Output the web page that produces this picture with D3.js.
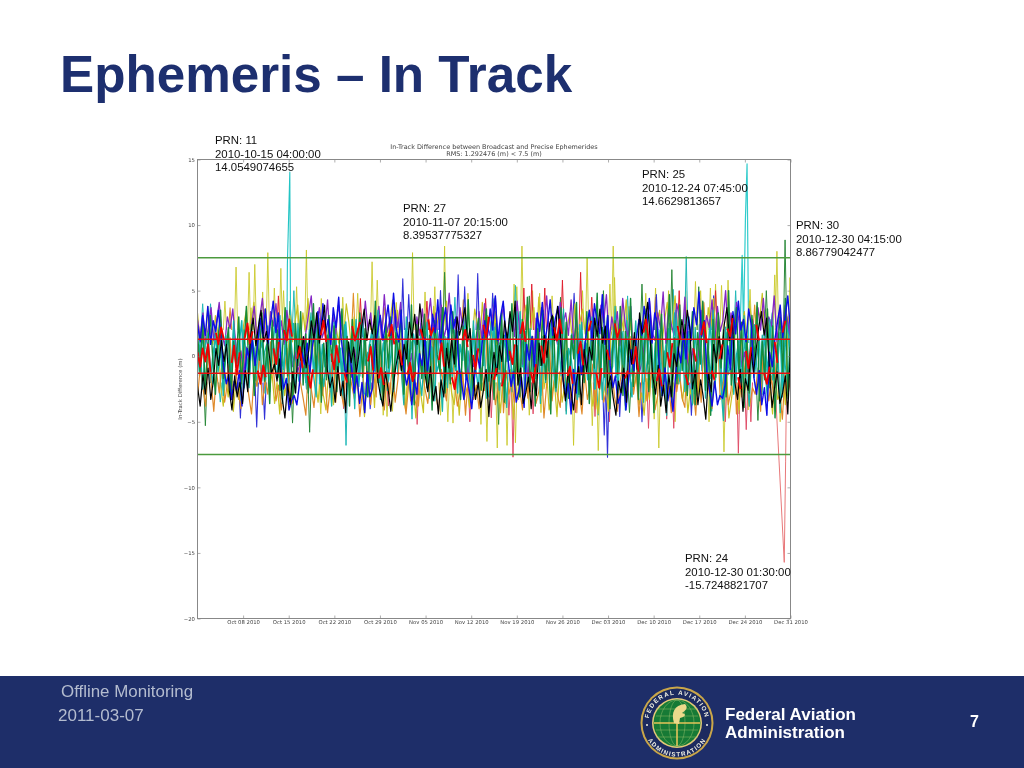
<!DOCTYPE html>
<html><head><meta charset="utf-8">
<script src="https://cdnjs.cloudflare.com/ajax/libs/d3/7.8.5/d3.min.js"></script>
<style>html,body{margin:0;padding:0;background:#fff;overflow:hidden}svg{display:block}</style>
</head><body><svg id="c" width="1024" height="768" xmlns="http://www.w3.org/2000/svg"></svg>
<script>
// ---- text ----
const slideTitle = "Ephemeris – In Track";
const plotTitle = ["In-Track Difference between Broadcast and Precise Ephemerides","RMS: 1.292476 (m) < 7.5 (m)"];
const yLabel = "In-Track Difference (m)";
const footerLeft = ["Offline Monitoring","2011-03-07"];
const footerOrg = ["Federal Aviation","Administration"];
const pageNumber = "7";
const yTicks = [15,10,5,0,-5,-10,-15,-20];
const xTickDates = ["2010-10-08","2010-10-15","2010-10-22","2010-10-29","2010-11-05","2010-11-12","2010-11-19","2010-11-26","2010-12-03","2010-12-10","2010-12-17","2010-12-24","2010-12-31"];
const annPrn = [11,27,25,30,24];
const annTime = ["2010-10-15 04:00:00","2010-11-07 20:15:00","2010-12-24 07:45:00","2010-12-30 04:15:00","2010-12-30 01:30:00"];
const annValue = ["14.0549074655","8.39537775327","14.6629813657","8.86779042477","-15.7248821707"];
const rmsLimit = 1.292476, maxLimit = 7.5;

// ---- dense series: in-track difference in decimetres, evenly spread over Oct 1 – Dec 31 (null = gap) ----
const dmGold = [33,12,27,6,38,18,9,31,15,-22,-38,-14,-31,-8,-42,-19,-33,-11,24,35,9,29,41,14,22,7,36,17,-27,-12,-36,-20,-44,-9,-30,-16,31,11,26,39,8,33,19,44,13,28,-18,-35,-10,-29,-41,-15,-24,-37,21,10,34,16,40,25,7,30,-13,-33,-23,-46,-17,-28,-9,-39,14,32,22,37,11,27,43,15,35,8,-26,-40,-12,-34,-21,-47,-16,-30,-43,18,29,9,38,20,33,12,25,42,-11,-28,-37,-19,-45,-14,-32,-24,-39,13,36,23,8,41,17,31,26,10,34,-20,-43,-15,-36,-27,-10,-48,-22,-33,16,28,39,11,24,37,9,45,19,-25,-13,-41,-30,-18,-46,-12,-35,-23,21,33,14,40,10,27,36,17,29,-16,-38,-26,-44,-11,-31,-20,-42,15,25,38,8,32,19,43,12,30,-24,-14,-37,-28,-45,-17,-33,-9,-40,22,35,11,28,41,16,26,46,13,-19,-34,-12,-43,-25,-36,-15,-29,18,31,9,37,23,44,14,27,-21,-39,-10,-47,-32,-16,-26,-41,20,34,12,42,24,15,38,29,48,17,36,-22,-44,-13,-33,-28,-11,-37,30,16];
const dmOrange = [-31,-9,-24,-38,5,-19,-42,-12,-28,-6,-35,-21,14,-33,-10,-26,-40,8,-16,-30,-44,-13,-23,3,-37,-18,-29,11,-8,-34,-22,-41,-15,6,-27,-36,-11,17,-20,-32,-45,-7,-25,-39,-14,9,-30,-17,-43,-24,2,-35,-12,-28,-38,13,-9,-22,-33,-16,-46,-26,7,-19,-37,-11,-31,15,-23,-41,-14,-29,-6,-35,-18,10,-27,-44,-21,-8,-32,-39,4,-13,-25,-36,-17,12,-30,-42,-10,-24,-34,-7,16,-20,-38,-28,-12,-45,-16,6,-33,-22,-40,-9,-26,18,-31,-15,-37,-23,8,-43,-11,-29,-19,-35,3,-25,-41,-13,-32,14,-17,-36,-27,-8,-47,-21,11,-34,-14,-30,-39,5,-24,-10,-37,-18,19,-28,-44,-12,-33,-22,-6,-40,9,-16,-35,-26,13,-11,-31,-42,-20,-7,-38,-25,15,-29,-13,-46,-18,4,-34,-23,-9,-41,-30,17,-15,-36,-21,-43,10,-27,-12,-32,-39,7,-19,-24,-45,-8,-35,12,-16,-28,-40,-14,20,-33,-22,-10,-37,-26,6,-44,-17,-31,-12,16,-38,-24,-29,-9,-42,8,-20,-34,-15,-36,11,-27,-48,-13,-30,-18];
const dmPurple = [28,14,33,9,22,37,12,26,41,17,8,30,21,36,11,-6,4,-14,7,-3,24,38,13,29,44,16,10,34,23,40,15,27,9,35,19,-8,3,-12,-4,6,18,32,46,11,25,37,14,21,43,8,31,17,39,26,12,-9,-2,-16,5,-7,29,15,42,20,33,10,24,38,13,47,18,28,9,35,22,41,-5,7,-11,2,-15,30,16,36,12,26,44,19,33,8,39,14,23,48,17,28,10,37,21,-3,-13,6,-8,1,34,13,40,24,16,31,45,9,27,38,11,20,35,15,42,18,-6,4,-17,8,-10,29,12,37,22,46,14,32,19,9,41,25,33,16,43,10,28,-2,-12,5,-9,3,36,20,13,39,26,47,11,30,17,34,8,44,23,15,38,-7,2,-14,-5,7,27,42,18,12,33,21,49,10,36,24,16,40,29,13,45,-4,-11,6,-15,1,35,14,31,22,43,9,38,19,27,50,12,33,17,41,25,-8,3,-13,-6,28,10,37,20,44,15,30,23,46,11,34,18,39,26,13];
const dmGreen = [19,-12,27,-25,8,31,-5,-29,14,35,-17,3,22,-33,11,-8,30,-21,6,38,-14,24,-30,16,-3,33,-19,9,-36,27,-10,20,-26,5,37,-15,12,-32,25,-7,34,-22,17,-28,2,40,-13,29,-35,10,-18,31,-4,23,-27,7,36,-11,15,-38,28,-23,4,33,-16,21,-31,9,-6,42,-20,13,-34,26,-9,30,-25,18,-2,35,-29,11,-14,39,-37,24,6,-17,32,-24,16,-41,27,1,-12,37,-28,10,-21,34,-8,19,-33,23,-15,43,-5,-30,14,29,-26,7,36,-19,12,-33,25,-10,33,-35,18,-3,40,-22,8,-31,28,-13,45,-27,15,-38,21,-7,35,-18,11,-44,30,-24,5,37,-11,26,-32,16,-2,41,-29,9,-20,34,-36,13,-9,48,-25,22,-16,31,-40,6,27,-14,38,-30,19,-4,44,-23,10,-33,25,-12,36,-27,17,-43,29,-8,32,-19,3,47,-35,14,-21,39,-11,24,-30,7,34,-37,18,-6,42,-26,12,-45,28,-16,33,-9,20,-31,50,-22,4,37,-13,26,-39,15,-28,31,-5,41,-34,11,-18,36,-24,23,-47,8,30,-12,44,-32,17];
const dmBlue = [24,11,31,16,38,9,27,19,35,13,-8,-21,-14,-33,-19,-27,-11,-38,-16,6,-3,12,-7,8,29,15,36,10,26,42,18,33,-12,-25,-17,-41,-34,-30,-37,-22,3,-6,10,-13,7,21,34,13,40,17,28,9,37,22,45,14,-4,-16,5,-10,-28,-15,-36,-20,-43,-12,-31,-24,8,19,31,12,26,39,16,48,23,11,35,-9,-22,-13,-37,-18,-29,2,-7,14,-11,6,32,18,43,10,25,37,13,39,21,30,-6,-19,-33,-14,-26,-40,-17,4,-9,11,27,15,36,20,46,12,30,42,17,-5,-23,-12,-35,-27,-16,-39,9,-3,15,-8,33,19,41,11,24,43,16,29,38,13,-18,-31,-21,-44,-10,-28,6,-14,3,22,35,12,40,26,17,47,9,31,-7,-24,-15,-36,-29,-12,-41,-20,5,-11,13,28,16,38,21,44,10,33,25,-17,-30,-9,-34,-23,-42,-14,7,-5,18,-2,30,12,37,24,49,15,27,-13,-26,-38,-19,-37,-30,-32,-22,8,-10,34,17,42,20,28,11,36,23,-16,-29,-11,-37,-24,-45,3,-8,12,26,39,14,31,46,19];
const dmTealA = [6,-11,17,-3,10,-20,2,15,-9,24,-26,7,13,-18,21,-5,9,27,-24,-1,-14,19,-7,-22,4,12,-28,23,-13,8,29,-16,3,-10,18,-30,11,25,-6,-19,14,-2,-25,20,5,-12,31,-21,9,-8,16,-27,1,22,-15,6,-33,26,-4,13,-17,28,-23,10,-28,-30,7,19,-11,24,-20,3,15,-26,-6,12,30,-14,8,-22,21,-2,-29,17,4,-9,25,-18,11,-32,6,23,-12,-5,27,-24,14,1,-16,20,-28,9,-3,31,-19,5,18,-10,-25,13,-7,26,-31,2,22,-15,10,-21,16,-4,29,-27,7,-13,34,-8,19,-23,3,12,-17,25,-30,-2,15,-11,21,-6,-26,9,28,-14,4,-20,17,-1,-33,24,-9,11,-18,6,30,-25,13,-12,20,-29,8,-4,23,-16,2,18,-22,27,-7,-31,14,5,-10,26,-19,-3,32,-24,10,-15,16,-28,7,21,-8,-13,35,-21,3,12,-26,19,-5,-28,-30,24,-11,9,-17,28,-2,-23,15,6,-33,22,-14,-7,31,-20,11,-27,4,17,-9,25,-16,-1,13,-29,20,-12,8,33,-24,-6,18,-31,10,26,-15];
const dmTealB = [-15,11,-25,8,18,-7,-21,23,-12,5,-30,16,-3,-17,27,-9,12,-34,20,-1,-24,14,6,-13,29,-19,3,10,-27,22,-5,-16,31,-36,9,-11,17,-2,-28,25,-8,13,-20,4,33,-14,-31,19,-6,-23,1,15,-38,26,-10,8,-18,24,-29,-4,12,-40,21,-15,28,-7,3,-25,17,-12,35,-33,10,-2,-19,23,-27,6,14,-9,-37,30,-5,11,-22,18,-13,-30,2,26,-16,7,-34,20,-8,-42,15,-24,32,-1,-11,9,-28,22,-18,4,-35,27,-6,13,-21,16,-32,-3,29,-14,8,-26,19,-10,-39,24,-17,-4,34,-23,11,-30,5,21,-12,-7,28,-36,15,-20,2,25,-9,-27,18,-15,36,-44,6,-3,-22,13,-31,26,-11,10,-18,30,-25,-5,16,-33,7,23,-13,-8,38,-28,3,19,-41,12,-16,-2,27,-21,9,-35,31,-6,15,-24,-10,20,-30,4,-45,25,-14,33,-7,-19,11,-27,17,-3,-37,22,-12,6,29,-32,8,-17,35,-4,14,-23,-49,18,-9,26,-29,1,12,-20,31,-15,-38,7,24,-11,-26,16,-5,-33,28,-18,3,10,-43,21,-8,-22,19];
const dmBlack = [-23,-38,-14,-29,-9,-33,-18,6,-7,12,-4,9,-26,-41,-15,-31,-20,-36,-11,-27,14,29,8,22,35,11,19,3,-13,-6,-19,-2,-32,-47,-21,-37,-12,-28,8,-3,15,-9,5,27,13,33,10,24,39,-10,-24,-16,-35,-8,-30,-19,-43,11,-5,7,-13,2,23,36,12,28,17,31,-17,-29,-38,-12,-25,-42,-21,-7,4,-11,9,-2,26,14,32,9,40,19,-15,-27,-8,-34,-23,-44,-18,-31,6,-9,13,-6,30,16,25,37,11,21,-12,-33,-20,-39,-26,-10,-46,-17,3,-14,8,-4,27,13,34,19,42,-22,-9,-36,-28,-16,-40,-13,-30,10,-7,16,-1,25,31,12,38,20,-18,-34,-11,-26,-41,-21,-8,-37,5,-12,7,-3,29,15,36,10,23,-24,-15,-32,-45,-19,-28,-9,-35,12,-6,18,-10,33,17,26,41,13,-16,-29,-7,-38,-22,-43,-14,-31,2,-8,11,28,14,35,20,-25,-11,-37,-18,-30,-48,-13,-27,9,-5,15,-2,24,37,12,31,-20,-33,-10,-42,-17,-26,6,-13,4,22,34,16,29,-8,-39,-23,-12,-36,-28,-15,-44,7];
const dmRed = [3,-8,6,-4,9,-12,null,18,9,22,13,null,null,-5,8,-14,3,null,14,25,10,19,null,-11,-21,-7,-16,null,null,6,-6,11,null,20,12,28,15,null,-2,7,-9,null,-15,-24,-10,null,null,16,27,11,null,2,-10,8,-5,null,-13,-20,null,23,12,19,26,null,null,-4,7,-11,null,-17,-9,-22,null,15,24,9,null,5,-7,null,-14,-5,-19,-12,null,21,13,null,28,16,22,null,-3,10,-8,null,null,-16,-25,-11,null,12,20,7,null,1,-10,6,null,24,14,30,null,-18,-9,null,-23,-13,null,4,-6,9,null,17,26,11,null,-12,-20,-6,null,8,-5,13,null,null,22,12,28,17,null,-15,-8,-21,null,2,11,-7,null,19,27,null,-13,-24,-9,null,5,-3,null,25,14,21,null,-17,-11,null,-6,7,-12,null,18,28,12,null,null,-19,-10,-23,null,3,-8,10,null,23,13,null,-14,-22,null,6,-4,null,16,26,10,null,-11,-18,null,-2,9,null,21,15,29,null,-16,-25,null,4,-9,7,null,24,12,null,-13,-21,-8,null,11,-5,null,18,27,null,-26];

// ---- excursions: day after Oct 1, and peak value (m) ----
const goldDays = [5.9,7.9,8.8,10.8,12.8,16.7,4.2,8.2,10,11.8,13.2,15.2,19,24.6,26.8,27.6,33,34.9,37.9,22.3,30.5,36.4,41.5,49.8,48.6,49,51.4,52.5,54.4,59.8,59.1,63.8,63.3,64,65.2,66.2,68.8,70.3,72.3,74.9,76.4,77.2,78.7,79.5,80.4,81.4,84.8,88.6,88.9,90.9,28.5,29.1,29.9,37.3,38.4,39.2,43.5,44.4,46,47.5,48.8,50.9,52.7,57.7,60.6,61.5,70.1,70.8,73.3,80.8,78.5,83.1,84.5,89.4,25.5,32,18.9,20.6];
const goldValues = [6.8,6.4,7,7.9,6.7,8.1,4.2,3.7,4.9,5.2,5,5.3,4.4,4.8,7.2,5.8,7.9,4.9,8.4,4.5,4.1,5.3,4.8,8.4,5.5,5.3,5,4.8,4.6,7.5,5,8.4,5.5,6,4,3.8,4.8,5.2,5,5,5.7,5,5.2,5.5,5.4,5.8,5.1,6.2,8,6,-4.5,-4.6,-4.2,-4.5,-5,-5.1,-5.2,-6.5,-7,-6.8,-6.6,-4.5,-4.3,-6.8,-5.3,-7.2,-4.8,-7,-5,-7.3,-5,-4.4,-4.1,-5,-4.1,-3.9,-4.4,-3.8];
const salmonDays = [48.4,47.8,56.6,63.2,69.2,73.1,84.9,81,83,84.2,33.7,41.8,22.4,29.3,58,51.5,45.1,61,72];
const salmonValues = [-7.7,-4.5,-4.2,-5,-5.5,-5.5,-5,-5,-7.4,-5.6,-5.2,-5,-4,-3.8,-4.3,-4.4,-4.7,-4.6,-4.8];
const blueDays = [9.1,10.3,6.6,26.5,62.9,62.4,64.8,31.5,32.4,37.3,40,41,43,45.3,57.8,63.1,68.2,70.4,75.8,79.2];
const blueValues = [-5.4,-4.8,-4.7,-4,-7.7,-6,-4.6,5.9,4.7,5,6.2,5.3,6.3,4.8,4.8,-4.4,-5,4.7,-4.5,4.6];
const greenDays = [1.2,17.2,14.6,46.2,66.3,86,37.9,14.2,72.8,62.3,68.2,87.3,90.18,50.9,55.7,76.9];
const greenValues = [-5.3,-5.8,-5.1,-5.2,-4.3,-4.9,6.4,4.2,6.6,5,5.5,5,8.87,4.6,4.5,5.3];
const tealDays = [0.8,2,14.8,22.8,32.9,3.5,48.8,61.5,75,73,82.6,78.9,45.5,66,39.5];
const tealValues = [4,4,5,-6.8,-4.8,-3.5,5.4,-4.5,7.6,5.1,5,-4.2,4.4,4.6,4.5];
const redDays = [58.8,56,51.3,50.1,53.3,73.9,79.5,12.4,25,44.2,60.5,35.2];
const redValues = [6.4,5.8,5.5,5.2,5.2,5,5,4.6,4.4,4.4,4.5,4.2];
const orangeDays = [23.9,5,70.3,40.8,77.7,33.9,58.2,85.5];
const orangeValues = [4.8,3.7,4.5,4.3,4.1,-3.8,-4.3,3.9];
// the annotated outliers
const cyanPrn11Days = [13.7,13.8,14.17,14.3];
const cyanPrn11Values = [1,7,14.05,1];
const cyanPrn25Days = [83.2,83.6,83.8,84.1,84.32,84.6];
const cyanPrn25Values = [1,7.7,2,10.5,14.66,1];
const pinkPrn24Days = [87.3,88.7,90.06,90.25,90.4];
const pinkPrn24Values = [-1,-2.8,-15.72,-8,-1];

// ---- layout ----
const L=197.5,R=790.5,T=159.5,B=618.5;
const svg=d3.select("#c");
const x=d3.scaleTime().domain([new Date(2010,9,1),new Date(2010,11,31)]).range([L,R]);
const y=d3.scaleLinear().domain([-20,15]).range([B,T]);
const dayToDate=d=>new Date(2010,9,1+Math.floor(d),Math.round((d-Math.floor(d))*24));
const line=d3.line().defined(p=>p[1]!==null).x(p=>x(dayToDate(p[0]))).y(p=>y(p[1]));
const defs=svg.append("defs");
defs.append("filter").attr("id","soft").attr("x","-2%").attr("y","-2%").attr("width","104%").attr("height","104%")
  .append("feGaussianBlur").attr("stdDeviation",0.45);
defs.append("filter").attr("id","softT").append("feGaussianBlur").attr("stdDeviation",0.22);
defs.append("clipPath").attr("id","pc").append("rect").attr("x",L).attr("y",T-1).attr("width",R-L).attr("height",B-T+1);

// slide title
svg.append("text").attr("x",60).attr("y",92).attr("font-family","Liberation Sans").attr("font-weight","bold")
  .attr("font-size",51.2).attr("fill","#1d2f6f").text(slideTitle);

// plot
const plot=svg.append("g").attr("filter","url(#soft)");
const clip=plot.append("g").attr("clip-path","url(#pc)").attr("fill","none").attr("stroke-linejoin","round");
function dense(vals,color,w){
  const n=vals.length;
  clip.append("path").attr("d",line(vals.map((v,i)=>[i*91/(n-1),v===null?null:v/10]))).attr("stroke",color).attr("stroke-width",w);
}
function spikes(days,vals,color,w,op){
  days.forEach((d,i)=>{
    clip.append("path").attr("d",line([[d-0.25,vals[i]>0?2:-2],[d,vals[i]],[d+0.25,vals[i]>0?2:-2]]))
      .attr("stroke",color).attr("stroke-width",w).attr("stroke-opacity",op||1);
  });
}
function trace(days,vals,color,w){
  clip.append("path").attr("d",line(days.map((d,i)=>[d,vals[i]]))).attr("stroke",color).attr("stroke-width",w);
}
trace(pinkPrn24Days,pinkPrn24Values,"#e8787a",1);
spikes(goldDays,goldValues,"#c9c824",1.0,.85);
spikes(salmonDays,salmonValues,"#e0506a",1.0);
spikes(orangeDays,orangeValues,"#e0902a",1.1);
spikes(tealDays,tealValues,"#22b8b8",1.0);
spikes(greenDays,greenValues,"#2d8a3c",1.0);
spikes(redDays,redValues,"#e02030",1.0);
spikes(blueDays,blueValues,"#3030d8",1.1);
trace(cyanPrn11Days,cyanPrn11Values,"#20c4c4",1.1);
trace(cyanPrn25Days,cyanPrn25Values,"#30cccc",1.2);
dense(dmGold,"#c8c224",1.2);
dense(dmTealA,"#12b6b6",1.5);
dense(dmOrange,"#e08a2a",1.2);
dense(dmPurple,"#8428c4",1.3);
dense(dmTealB,"#18b4aa",1.3);
dense(dmGreen,"#128a3a",1.4);
dense(dmBlue,"#0a0ae6",1.4);
dense(dmBlack,"#050505",1.2);
dense(dmRed,"#f00000",1.9);

// limit lines
[maxLimit,-maxLimit].forEach(v=>plot.append("line").attr("x1",L).attr("x2",R).attr("y1",y(v)).attr("y2",y(v)).attr("stroke","#4c9a3c").attr("stroke-width",1.5));
[rmsLimit,-rmsLimit].forEach(v=>plot.append("line").attr("x1",L).attr("x2",R).attr("y1",y(v)).attr("y2",y(v)).attr("stroke","#e81010").attr("stroke-width",1.5));

// axes
const tickDates=xTickDates.map(d3.timeParse("%Y-%m-%d"));
const fmt=d3.timeFormat("%b %d %Y");
const axT="DejaVu Sans",axC="#444";
function style(g){g.selectAll("text").attr("font-family",axT).attr("font-size",5.3).attr("fill",axC);
  g.selectAll("line").attr("stroke","#777").attr("stroke-width",.6);g.select(".domain").remove();}
plot.append("g").attr("transform",`translate(0,${B})`).call(d3.axisBottom(x).tickValues(tickDates).tickFormat(fmt).tickSizeInner(-3).tickSizeOuter(0).tickPadding(1.5)).call(style);
plot.append("g").attr("transform",`translate(0,${T})`).call(d3.axisTop(x).tickValues(tickDates).tickFormat("").tickSizeInner(-3).tickSizeOuter(0)).call(style);
plot.append("g").attr("transform",`translate(${L},0)`).call(d3.axisLeft(y).tickValues(yTicks).tickFormat(d=>d3.format("d")(d).replace("-","−")).tickSizeInner(-3).tickSizeOuter(0).tickPadding(2.5)).call(style);
plot.append("g").attr("transform",`translate(${R},0)`).call(d3.axisRight(y).tickValues(yTicks).tickFormat("").tickSizeInner(-3).tickSizeOuter(0)).call(style);
plot.append("rect").attr("x",L).attr("y",T).attr("width",R-L).attr("height",B-T).attr("fill","none").attr("stroke","#888").attr("stroke-width",1);
plot.append("text").attr("x",494).attr("y",149).attr("text-anchor","middle").attr("font-family",axT).attr("font-size",6.45).attr("fill",axC).text(plotTitle[0]);
plot.append("text").attr("x",494).attr("y",156).attr("text-anchor","middle").attr("font-family",axT).attr("font-size",6.45).attr("fill",axC).text(plotTitle[1]);
plot.append("text").attr("transform","translate(182,389) rotate(-90)").attr("text-anchor","middle").attr("font-family",axT).attr("font-size",5.4).attr("fill",axC).text(yLabel);

// annotations
const annX=[215,403,642,796,685], annY=[144,212,178,229,562];
annPrn.forEach((p,i)=>{
  [`PRN: ${p}`,annTime[i],annValue[i]].forEach((s,k)=>{
    svg.append("text").attr("x",annX[i]).attr("y",annY[i]+k*13.7).attr("font-family","Liberation Sans").attr("font-size",11.4).attr("fill","#111").text(s);
  });
});

// footer
svg.append("rect").attr("x",0).attr("y",676).attr("width",1024).attr("height",92).attr("fill","#1e2e69");
svg.append("text").attr("x",61).attr("y",697).attr("font-family","Liberation Sans").attr("font-size",16.9).attr("fill","#b4bccf").text(footerLeft[0]);
svg.append("text").attr("x",58).attr("y",721).attr("font-family","Liberation Sans").attr("font-size",17).attr("fill","#b4bccf").text(footerLeft[1]);
svg.append("text").attr("x",725).attr("y",720).attr("font-family","Liberation Sans").attr("font-weight","bold").attr("font-size",17).attr("fill","#fff").text(footerOrg[0]);
svg.append("text").attr("x",725).attr("y",737.5).attr("font-family","Liberation Sans").attr("font-weight","bold").attr("font-size",17).attr("fill","#fff").text(footerOrg[1]);
svg.append("text").attr("x",970).attr("y",727).attr("font-family","Liberation Sans").attr("font-weight","bold").attr("font-size",16).attr("fill","#fff").text(pageNumber);

// FAA seal
const sx=677,sy=723;
const seal=svg.append("g").attr("transform",`translate(${sx},${sy})`).attr("filter","url(#softT)");
seal.append("circle").attr("r",36.5).attr("fill","#c9a64a");
seal.append("circle").attr("r",34.5).attr("fill","#1a2a5e");
seal.append("circle").attr("r",25).attr("fill","#e3c878");
seal.append("circle").attr("r",23.5).attr("fill","#177a35");
defs.append("path").attr("id","arcTop").attr("d","M -28 6 A 28.6 28.6 0 1 1 28 6");
defs.append("path").attr("id","arcBot").attr("d","M -33 -7 A 33.7 33.7 0 1 0 33 -7");
seal.append("text").attr("font-family","Liberation Sans").attr("font-weight","bold").attr("font-size",6.2).attr("letter-spacing",1.3).attr("fill","#f2f0e4").attr("text-anchor","middle")
  .append("textPath").attr("href","#arcTop").attr("startOffset","50%").text("FEDERAL AVIATION");
seal.append("text").attr("font-family","Liberation Sans").attr("font-weight","bold").attr("font-size",6.2).attr("letter-spacing",1.2).attr("fill","#f2f0e4").attr("text-anchor","middle")
  .append("textPath").attr("href","#arcBot").attr("startOffset","50%").text("ADMINISTRATION");
[-30,30].forEach(a=>seal.append("circle").attr("cx",a).attr("cy",2).attr("r",1).attr("fill","#f2f0e4"));
const g2=seal.append("g").attr("fill","none").attr("stroke","#8fbc6a").attr("stroke-width",.5);
[-14,-7,7,14].forEach(o=>g2.append("line").attr("x1",-21).attr("x2",21).attr("y1",o).attr("y2",o));
[8,17].forEach(r=>g2.append("ellipse").attr("rx",r).attr("ry",23));
seal.append("line").attr("x1",-23).attr("x2",23).attr("y1",0).attr("y2",0).attr("stroke","#e6c45a").attr("stroke-width",1.6);
seal.append("line").attr("x1",0).attr("x2",0).attr("y1",-8).attr("y2",23).attr("stroke","#e6c45a").attr("stroke-width",1.6);
seal.append("path").attr("d","M -3 0 C -6 -10 -3 -18 8 -19 C 12 -15 8 -12 5 -10 C 10 -9 8 -6 3 -5 L 2 1 Z").attr("fill","#ecd98c");
</script></body></html>
